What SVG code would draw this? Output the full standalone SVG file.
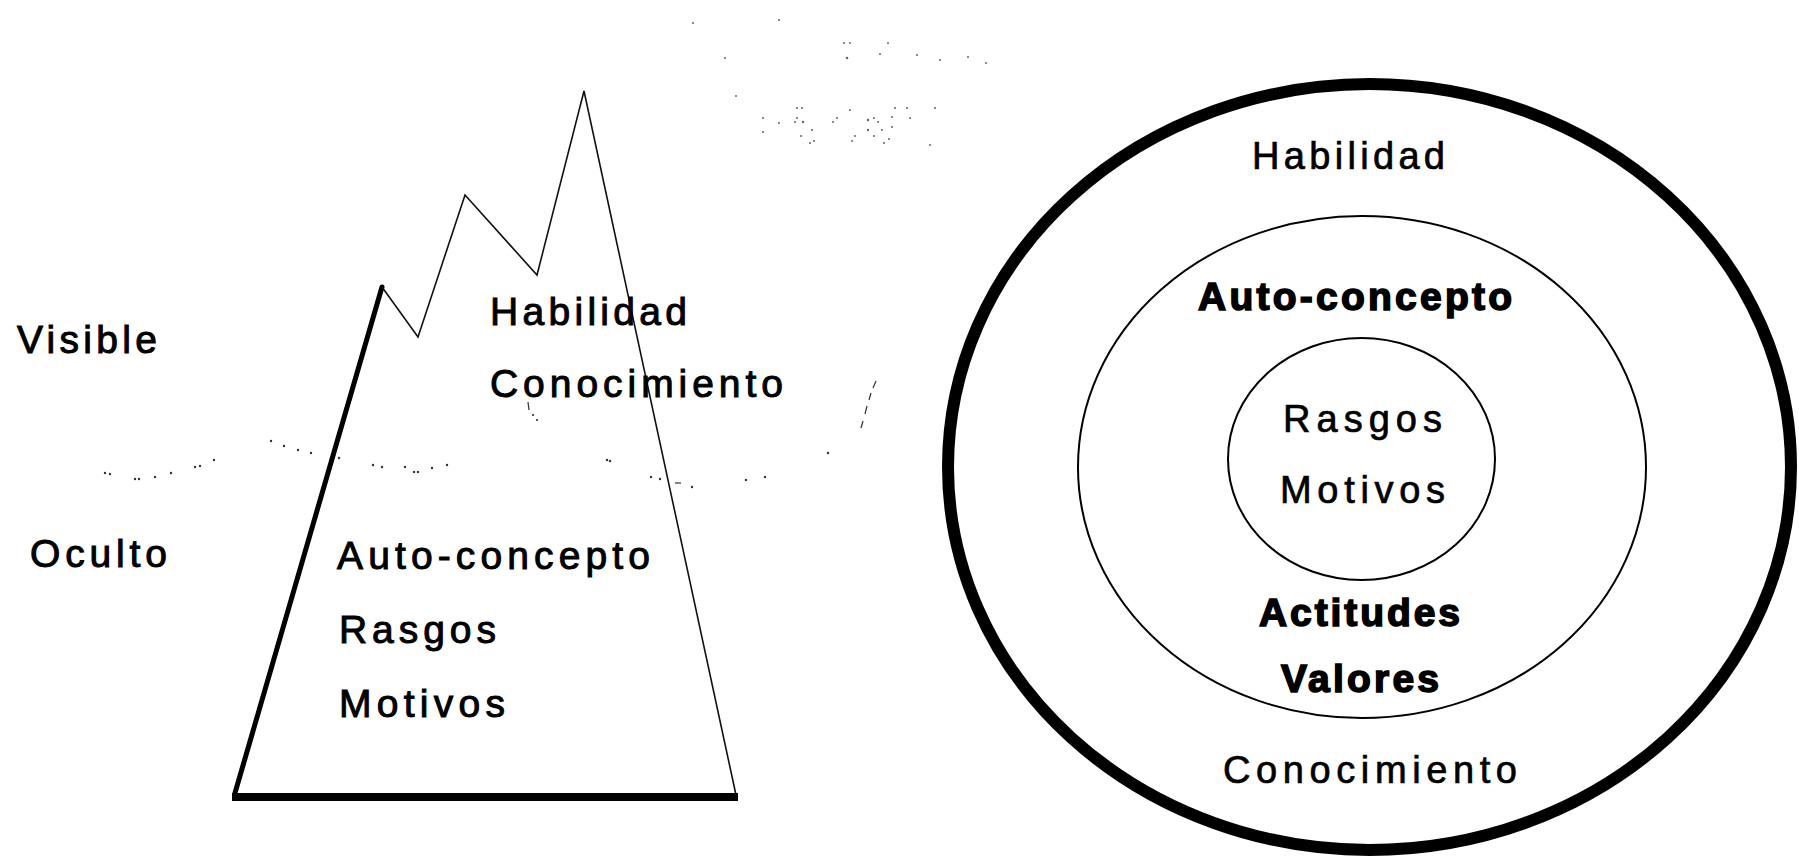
<svg xmlns="http://www.w3.org/2000/svg" width="1799" height="857" viewBox="0 0 1799 857">
<style>
  text { font-family: "Liberation Sans", Arial, sans-serif; fill: #000; }
  .lt { font-size: 39px; stroke: #000; stroke-width: 1px; }
  .rt { font-size: 38px; stroke: #000; stroke-width: 0.7px; }
  .bt { font-size: 39px; font-weight: bold; stroke: #000; stroke-width: 1.6px; }
  .thick { stroke: #000; fill: none; stroke-linecap: round; stroke-linejoin: round; }
  .thin { stroke: #111; stroke-width: 1.6; fill: none; stroke-linejoin: miter; }
  .dot { fill: #333; }
  .noise { fill: #666; }
</style>
<rect width="1799" height="857" fill="#fff"/>

<g id="iceberg">
  <line class="thick" x1="235" y1="793" x2="382" y2="287" stroke-width="5"/>
  <line x1="232" y1="797" x2="738" y2="797" stroke="#000" stroke-width="8"/>
  <polyline class="thin" points="382,287 418,337 465,195 537,275 584,91 736,795"/>
</g>

<g id="waterline">
  <circle class="dot" cx="105" cy="473" r="1.2"/><circle class="dot" cx="110" cy="474" r="1.2"/>
  <circle class="dot" cx="135" cy="479" r="1.2"/><circle class="dot" cx="139" cy="479" r="1.2"/>
  <circle class="dot" cx="155" cy="477" r="1.2"/><circle class="dot" cx="171" cy="473" r="1.2"/>
  <circle class="dot" cx="195" cy="467" r="1.2"/><circle class="dot" cx="200" cy="466" r="1.2"/>
  <circle class="dot" cx="214" cy="460" r="1.2"/><circle class="dot" cx="271" cy="441" r="1.2"/>
  <circle class="dot" cx="284" cy="446" r="1.2"/><circle class="dot" cx="298" cy="450" r="1.2"/>
  <circle class="dot" cx="311" cy="453" r="1.2"/><circle class="dot" cx="339" cy="458" r="1.2"/>
  <circle class="dot" cx="373" cy="465" r="1.2"/><circle class="dot" cx="382" cy="467" r="1.2"/>
  <circle class="dot" cx="405" cy="467" r="1.2"/><circle class="dot" cx="414" cy="472" r="1.2"/>
  <circle class="dot" cx="418" cy="472" r="1.2"/><circle class="dot" cx="432" cy="468" r="1.2"/>
  <circle class="dot" cx="447" cy="465" r="1.2"/>
  <path d="M528,402 L529,410" stroke="#333" stroke-width="1.2" fill="none"/>
  <circle class="dot" cx="533" cy="415" r="1.1"/><circle class="dot" cx="537" cy="420" r="1.1"/>
  <circle class="dot" cx="607" cy="460" r="1.2"/><circle class="dot" cx="610" cy="461" r="1.2"/>
  <circle class="dot" cx="651" cy="477" r="1.2"/><circle class="dot" cx="660" cy="479" r="1.2"/>
  <path d="M675,483 L681,483" stroke="#333" stroke-width="1.2" fill="none"/>
  <circle class="dot" cx="692" cy="487" r="1.2"/><circle class="dot" cx="746" cy="480" r="1.2"/>
  <circle class="dot" cx="765" cy="477" r="1.2"/><circle class="dot" cx="828" cy="453" r="1.2"/>
  <path d="M861,428 L863,421 M865,414 L867,406 M869,400 L871,393 M873,388 L876,381" stroke="#333" stroke-width="1.2" fill="none"/>
</g>

<g id="noise">
  <circle class="noise" cx="693" cy="23" r="1"/><circle class="noise" cx="779" cy="20" r="1"/>
  <circle class="noise" cx="725" cy="58" r="1"/><circle class="noise" cx="736" cy="96" r="1"/>
  <circle class="noise" cx="844" cy="43" r="1"/><circle class="noise" cx="850" cy="43" r="1"/>
  <circle class="noise" cx="888" cy="43" r="1"/><circle class="noise" cx="847" cy="58" r="1.3"/>
  <circle class="noise" cx="880" cy="54" r="1"/><circle class="noise" cx="917" cy="55" r="1"/>
  <circle class="noise" cx="940" cy="60" r="1"/><circle class="noise" cx="968" cy="57" r="1"/>
  <circle class="noise" cx="986" cy="63" r="1"/>
  <circle class="noise" cx="763" cy="118" r="1"/><circle class="noise" cx="763" cy="132" r="1"/>
  <circle class="noise" cx="779" cy="123" r="1"/><circle class="noise" cx="797" cy="108" r="1"/>
  <circle class="noise" cx="802" cy="108" r="1"/><circle class="noise" cx="797" cy="118" r="1"/>
  <circle class="noise" cx="795" cy="122" r="1"/><circle class="noise" cx="803" cy="122" r="1.2"/>
  <circle class="noise" cx="812" cy="130" r="1"/><circle class="noise" cx="801" cy="136" r="1"/>
  <circle class="noise" cx="810" cy="143" r="1"/><circle class="noise" cx="814" cy="141" r="1"/>
  <circle class="noise" cx="833" cy="122" r="1"/><circle class="noise" cx="837" cy="118" r="1"/>
  <circle class="noise" cx="850" cy="110" r="1"/><circle class="noise" cx="855" cy="136" r="1"/>
  <circle class="noise" cx="852" cy="141" r="1"/><circle class="noise" cx="868" cy="120" r="1.2"/>
  <circle class="noise" cx="874" cy="118" r="1"/><circle class="noise" cx="878" cy="122" r="1"/>
  <circle class="noise" cx="868" cy="130" r="1.2"/><circle class="noise" cx="882" cy="130" r="1"/>
  <circle class="noise" cx="892" cy="117" r="1"/><circle class="noise" cx="895" cy="108" r="1"/>
  <circle class="noise" cx="892" cy="127" r="1"/><circle class="noise" cx="889" cy="139" r="1"/>
  <circle class="noise" cx="884" cy="143" r="1"/><circle class="noise" cx="874" cy="136" r="1"/>
  <circle class="noise" cx="907" cy="108" r="1"/><circle class="noise" cx="910" cy="118" r="1"/>
  <circle class="noise" cx="930" cy="145" r="1"/><circle class="noise" cx="935" cy="108" r="1"/>
</g>

<g id="iceberg-labels">
  <text class="lt" x="17" y="353" textLength="140" lengthAdjust="spacing">Visible</text>
  <text class="lt" x="30" y="567" textLength="137" lengthAdjust="spacing">Oculto</text>
  <text class="lt" x="490" y="325" textLength="197" lengthAdjust="spacing">Habilidad</text>
  <text class="lt" x="490" y="397" textLength="293" lengthAdjust="spacing">Conocimiento</text>
  <text class="lt" x="337" y="569" textLength="313" lengthAdjust="spacing">Auto-concepto</text>
  <text class="lt" x="339" y="643" textLength="157" lengthAdjust="spacing">Rasgos</text>
  <text class="lt" x="339" y="717" textLength="166" lengthAdjust="spacing">Motivos</text>
</g>

<g id="outer-ring">
  <ellipse cx="1369.5" cy="467" rx="421.5" ry="383" fill="none" stroke="#000" stroke-width="12"/>
  <text class="rt" x="1252" y="169" textLength="193" lengthAdjust="spacing">Habilidad</text>
  <text class="rt" x="1223" y="783" textLength="294" lengthAdjust="spacing">Conocimiento</text>
</g>

<g id="middle-ring">
  <ellipse cx="1362" cy="467" rx="284" ry="251" fill="none" stroke="#000" stroke-width="2"/>
  <text class="bt" x="1198" y="310" textLength="314" lengthAdjust="spacing">Auto-concepto</text>
  <text class="bt" x="1259" y="626" textLength="201" lengthAdjust="spacing">Actitudes</text>
  <text class="bt" x="1281" y="692" textLength="158" lengthAdjust="spacing">Valores</text>
</g>

<g id="inner-core">
  <ellipse cx="1361.5" cy="459" rx="133.5" ry="121" fill="none" stroke="#000" stroke-width="2"/>
  <text class="rt" x="1283" y="432" textLength="159" lengthAdjust="spacing">Rasgos</text>
  <text class="rt" x="1280" y="503" textLength="165" lengthAdjust="spacing">Motivos</text>
</g>
</svg>
